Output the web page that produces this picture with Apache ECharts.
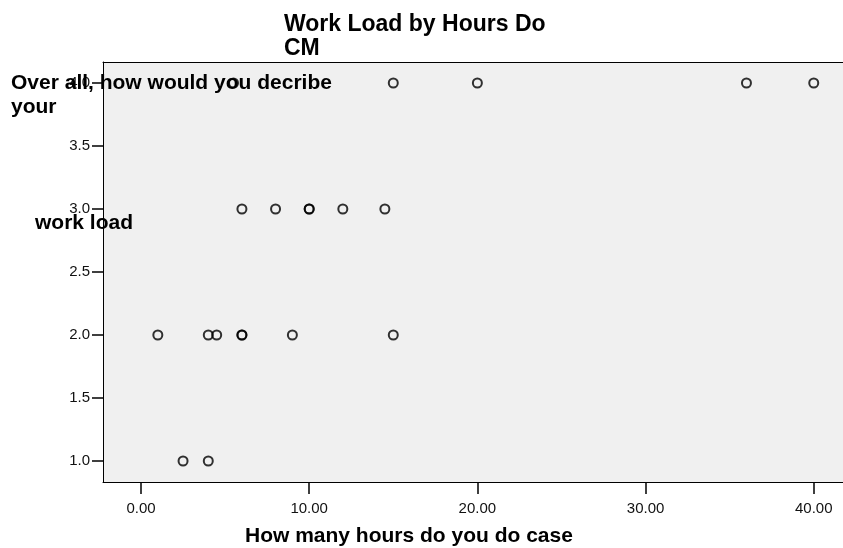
<!DOCTYPE html>
<html>
<head>
<meta charset="utf-8">
<script src="https://cdn.jsdelivr.net/npm/echarts@6/dist/echarts.min.js"></script>
<style>
html,body{margin:0;padding:0;background:#fff;}
#c{width:843px;height:548px;}
</style>
</head>
<body>
<div id="c"></div>
<script>
// Data
var hours    = [5.5, 15, 20, 36, 40, 6, 8, 10, 10, 12, 14.5, 1, 4, 4.5, 6, 6, 9, 15, 2.5, 4];
var workload = [4, 4, 4, 4, 4, 3, 3, 3, 3, 3, 3, 2, 2, 2, 2, 2, 2, 2, 1, 1];
var xTicks = [0, 10, 20, 30, 40];
var yTicks = [1.0, 1.5, 2.0, 2.5, 3.0, 3.5, 4.0];
var titleLines = ['Work Load by Hours Do', 'CM'];
var yNameLines = ['Over all, how would you decribe', 'your', 'work load'];
var xName = 'How many hours do you do case';

var pts = hours.map(function (h, i) { return [h, workload[i]]; });
var FONT = '"Liberation Sans", Arial, Helvetica, sans-serif';

var chart = echarts.init(document.getElementById('c'), null, {renderer: 'canvas'});
chart.setOption({
  backgroundColor: '#ffffff',
  animation: false,
  grid: {
    left: 103, top: 62, right: 0, bottom: 66,
    show: true, backgroundColor: '#f0f0f0', borderWidth: 0
  },
  xAxis: [{
    type: 'value', min: -2.26, max: 41.74, position: 'bottom',
    axisLine: {show: true, onZero: false, lineStyle: {color: '#000', width: 1}},
    axisTick: {show: true, length: 12, inside: false, customValues: xTicks, lineStyle: {color: '#000', width: 1.5}},
    axisLabel: {show: true, customValues: xTicks, margin: 19, fontSize: 15, fontFamily: FONT, color: '#111',
      formatter: function (v) { return v.toFixed(2); }},
    splitLine: {show: false}
  }, {
    type: 'value', min: -2.26, max: 41.74, position: 'top',
    axisLine: {show: true, onZero: false, lineStyle: {color: '#000', width: 1}},
    axisTick: {show: false}, axisLabel: {show: false}, splitLine: {show: false}
  }],
  yAxis: {
    type: 'value', min: 5 / 6, max: 25 / 6,
    axisLine: {show: true, onZero: false, lineStyle: {color: '#000', width: 1}},
    axisTick: {show: true, length: 11, inside: false, customValues: yTicks, lineStyle: {color: '#000', width: 1.5}},
    axisLabel: {show: true, customValues: yTicks, margin: 13, fontSize: 15, fontFamily: FONT, color: '#111',
      formatter: function (v) { return v.toFixed(1); }},
    splitLine: {show: false}
  },
  series: [{
    type: 'scatter',
    xAxisIndex: 0,
    data: pts,
    symbol: 'circle',
    symbolSize: 9,
    itemStyle: {color: 'rgba(0,0,0,0)', borderColor: '#000', borderWidth: 2}
  }],
  graphic: [
    {type: 'text', left: 284, top: 13, z: 100, style: {text: titleLines[0], font: 'bold 23px ' + FONT, fill: '#000'}},
    {type: 'text', left: 284, top: 37, z: 100, style: {text: titleLines[1], font: 'bold 23px ' + FONT, fill: '#000'}},
    {type: 'text', left: 11, top: 73, z: 100, style: {text: yNameLines[0], font: 'bold 21px ' + FONT, fill: '#000'}},
    {type: 'text', left: 11, top: 97, z: 100, style: {text: yNameLines[1], font: 'bold 21px ' + FONT, fill: '#000'}},
    {type: 'text', left: 35, top: 213, z: 100, style: {text: yNameLines[2], font: 'bold 21px ' + FONT, fill: '#000'}},
    {type: 'text', left: 245, top: 526, z: 100, style: {text: xName, font: 'bold 21px ' + FONT, fill: '#000'}}
  ]
});
</script>
</body>
</html>
